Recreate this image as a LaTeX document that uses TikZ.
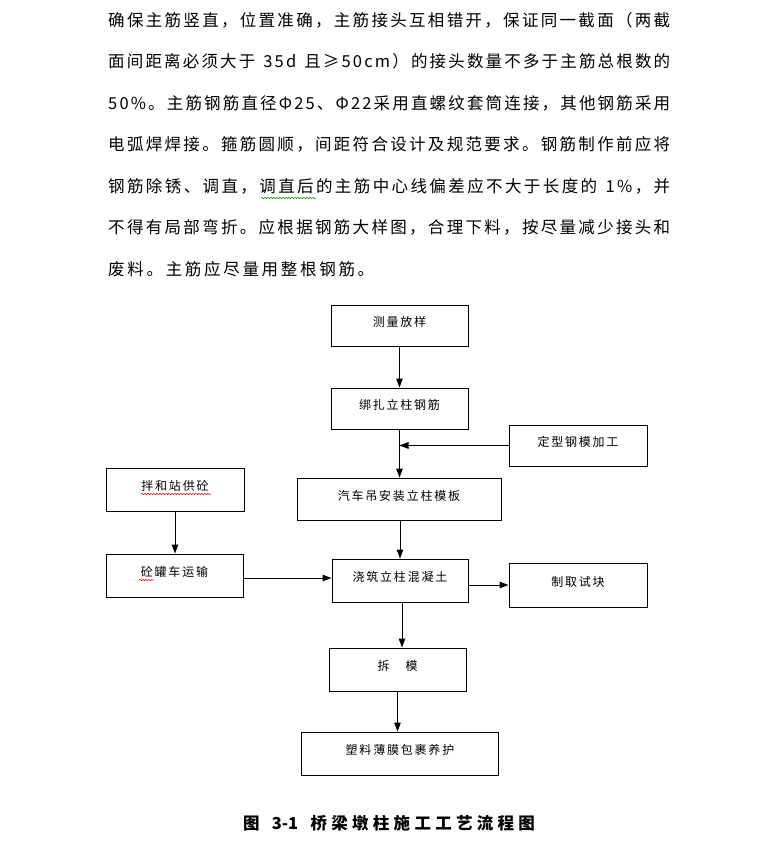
\documentclass[tikz,border=0pt]{standalone}
\usepackage{fontspec}
\usetikzlibrary{arrows.meta,decorations.pathmorphing}
\newfontfamily\cjkbox[LetterSpace=15]{Noto Sans CJK SC}
\newfontfamily\cjkpara{Noto Sans CJK SC}
\newfontfamily\cjktitle{Noto Sans CJK SC}
% spread the characters of a line with equal stretchable glue
\def\spread#1{\spreadfirst#1\relax}
\def\spreadfirst#1{#1\spreadrest}
\def\spreadrest#1{\ifx#1\relax\else\hskip0pt plus 1fil\relax#1\expandafter\spreadrest\fi}
\tikzset{
  box/.style={draw, line width=1pt, rectangle, inner sep=0pt,
    font=\cjkbox\fontsize{12}{14}\selectfont, text height=5pt, text depth=3pt},
  arr/.style={line width=1pt, -{Triangle[length=9pt,width=6.5pt]}},
  para/.style={anchor=base west, inner sep=0pt, font=\cjkpara\fontsize{16.5}{20}\selectfont},
  wavy/.style={decorate, decoration={snake, segment length=3pt, amplitude=0.7pt}, line width=0.5pt}
}
\begin{document}
\begin{tikzpicture}[x=1pt,y=-1pt]
\useasboundingbox (0,0) rectangle (780,849);
% paragraph
\node[para] (l1) at (108,26) {\hbox to 562pt{\spread{确保主筋竖直，位置准确，主筋接头互相错开，保证同一截面（两截}}};
\node[para] (l2) at (108,67.5) {\hbox to 562pt{\spread{面间距离必须大于\ 35d\ 且≥50cm）的接头数量不多于主筋总根数的}}};
\node[para] (l3) at (108,109) {\hbox to 562pt{\spread{50\%。主筋钢筋直径Φ25、Φ22采用直螺纹套筒连接，其他钢筋采用}}};
\node[para] (l4) at (108,150.5) {\hbox to 562pt{\spread{电弧焊焊接。箍筋圆顺，间距符合设计及规范要求。钢筋制作前应将}}};
\node[para] (l5) at (108,192) {\hbox to 562pt{\spread{钢筋除锈、调直，调直后的主筋中心线偏差应不大于长度的\ 1\%，并}}};
\node[para] (l6) at (108,233.5) {\hbox to 562pt{\spread{不得有局部弯折。应根据钢筋大样图，合理下料，按尽量减少接头和}}};
\node[para] (l7) at (108,275) {\hbox to 266pt{\spread{废料。主筋应尽量用整根钢筋。}}};
\draw[wavy, green!55!black] (261,198) -- (316,198);
% boxes
\node[box, minimum width=137pt, minimum height=41pt] (survey) at (399.5,325.5) {测量放样};
\node[box, minimum width=137pt, minimum height=41pt] (rebar) at (399.5,408.5) {绑扎立柱钢筋};
\node[box, minimum width=138pt, minimum height=41pt] (steel) at (578,445.5) {定型钢模加工};
\node[box, minimum width=204pt, minimum height=42pt] (form) at (399,499) {汽车吊安装立柱模板};
\node[box, minimum width=138pt, minimum height=43pt] (mix) at (175,489.5) {拌和站供砼};
\node[box, minimum width=137pt, minimum height=43pt] (truck) at (174.5,575.5) {砼罐车运输};
\node[box, minimum width=136pt, minimum height=43pt] (pour) at (400,580.5) {浇筑立柱混凝土};
\node[box, minimum width=138pt, minimum height=44pt] (sample) at (578,585) {制取试块};
\node[box, minimum width=137pt, minimum height=43pt] (strip) at (397.5,669.5) {拆\hspace{16pt}模};
\node[box, minimum width=197pt, minimum height=43pt] (wrap) at (400,753.5) {塑料薄膜包裹养护};
\draw[wavy, red] (141,494) -- (211,494);
\draw[wavy, red] (139,580) -- (154,580);
% arrows
\draw[arr] (survey.south) -- (rebar.north);
\draw[arr] (rebar.south) -- (rebar.south |- form.north);
\draw[arr] (steel.west) -- (steel.west -| rebar.south);
\draw[arr] (pour.north |- form.south) -- (pour.north);
\draw[arr] (mix.south) -- (mix.south |- truck.north);
\draw[arr] ([yshift=-2.5pt]truck.east) -- ([yshift=-2.5pt]truck.east -| pour.west);
\draw[arr] (sample.west -| pour.east) -- (sample.west);
\draw[arr] ([xshift=2pt]pour.south) -- ([xshift=2pt]pour.south |- strip.north);
\draw[arr] (strip.south) -- (strip.south |- wrap.north);
% caption
\node[font=\cjktitle\bfseries\fontsize{16.5}{20}\selectfont, inner sep=0pt] (title) at (389,823)
  {\hbox to 292pt{图\hskip 8pt plus 1fil 3-1\hskip 8pt plus 1fil 桥\hfil 梁\hfil 墩\hfil 柱\hfil 施\hfil 工\hfil 工\hfil 艺\hfil 流\hfil 程\hfil 图}};
\end{tikzpicture}
\end{document}
